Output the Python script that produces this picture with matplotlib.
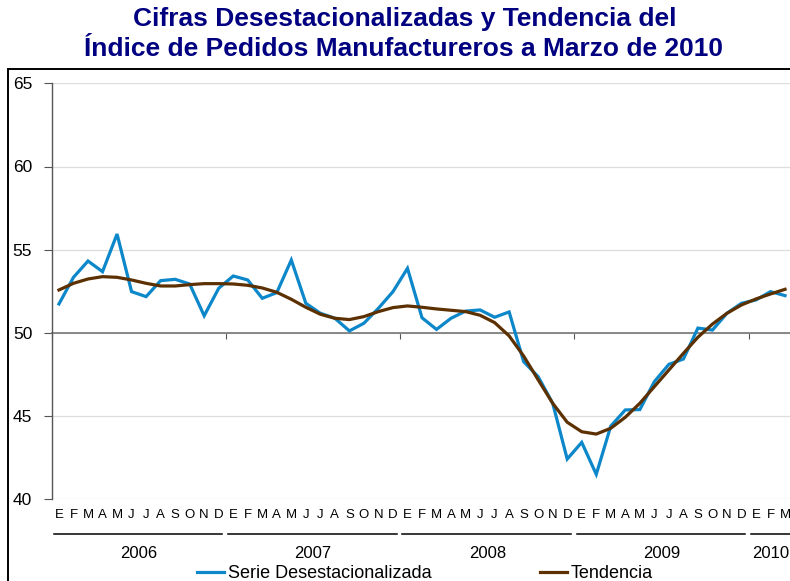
import matplotlib
matplotlib.use("Agg")
import matplotlib.pyplot as plt
from matplotlib.lines import Line2D
from matplotlib.patches import Rectangle
import matplotlib.transforms as mtransforms

plt.rcParams['font.family'] = ['Liberation Sans', 'DejaVu Sans']

years = ['2006', '2007', '2008', '2009', '2010']
month_letters = ['E', 'F', 'M', 'A', 'M', 'J', 'J', 'A', 'S', 'O', 'N', 'D']

serie = [51.74, 53.34, 54.32, 53.68, 55.94, 52.48, 52.18, 53.14, 53.22, 52.94, 51.03, 52.68,
         53.42, 53.18, 52.08, 52.42, 54.38, 51.78, 51.18, 50.88, 50.12, 50.58, 51.48, 52.48,
         53.88, 50.91, 50.21, 50.88, 51.31, 51.38, 50.94, 51.26, 48.27, 47.37, 45.77, 42.42,
         43.42, 41.50, 44.40, 45.37, 45.39, 47.07, 48.11, 48.43, 50.29, 50.17, 51.18, 51.78,
         51.98, 52.48, 52.24]
tendencia = [52.58, 52.98, 53.24, 53.38, 53.34, 53.18, 52.98, 52.82, 52.82, 52.90, 52.96, 52.96,
             52.94, 52.86, 52.70, 52.44, 52.02, 51.54, 51.12, 50.88, 50.80, 50.98, 51.28, 51.52,
             51.62, 51.54, 51.44, 51.36, 51.28, 51.06, 50.62, 49.82, 48.61, 47.18, 45.77, 44.63,
             44.06, 43.92, 44.27, 44.93, 45.77, 46.77, 47.77, 48.77, 49.74, 50.53, 51.18, 51.68,
             52.04, 52.34, 52.62]
yticks = [40, 45, 50, 55, 60, 65]

W, H = 790, 581
fig = plt.figure(figsize=(W / 100, H / 100), dpi=100)

# axes placement (pixels)
ax_left, ax_right = 51.7, 792.3
ax_top, ax_bottom = 83.3, 499.3
ax = fig.add_axes([ax_left / W, 1 - ax_bottom / H, (ax_right - ax_left) / W, (ax_bottom - ax_top) / H])

n = len(serie)
x = list(range(n))
blue = '#0C87C9'
brown = '#5C3000'
l1, = ax.plot(x, serie, color=blue, lw=2.3, solid_joinstyle='miter', zorder=3,
              label='Serie Desestacionalizada')
l2, = ax.plot(x, tendencia, color=brown, lw=2.3, zorder=4, label='Tendencia')

year_bounds = [-0.5 + 12 * k for k in range(len(years)) if -0.5 + 12 * k < n - 0.5]
ax.set_xticks(year_bounds)
ax.set_xlim(-0.5, n - 0.5)
ax.set_ylim(40, 65)
ax.set_yticks(yticks)
ax.set_yticklabels([str(v) for v in yticks], fontsize=12.5)
ax.yaxis.grid(True, color='#dddddd', lw=0.9)
ax.set_axisbelow(True)

for s in ['top', 'right']:
    ax.spines[s].set_visible(False)
ax.spines['left'].set_color('#555555')
ax.spines['left'].set_linewidth(1.0)
ax.spines['bottom'].set_position(('data', 50))
ax.spines['bottom'].set_color('#777777')
ax.spines['bottom'].set_linewidth(1.2)
ax.spines['bottom'].set_zorder(2)

ax.tick_params(axis='x', direction='out', length=4, color='#555555', labelbottom=False)
ax.tick_params(axis='y', direction='out', length=6, color='#555555', pad=8)

trans = mtransforms.blended_transform_factory(ax.transData, ax.transAxes)
for i in range(n):
    ax.text(i, -0.038, month_letters[i % 12], transform=trans, ha='center', va='center',
            fontsize=9.5, clip_on=False)

for k, yr in enumerate(years):
    start = -0.5 + 12 * k
    end = min(start + 12, n - 0.5)
    ax.add_line(Line2D([start + 0.15, start + 11.75], [-0.0834, -0.0834], transform=trans,
                       color='black', lw=1.1, clip_on=False))
    ax.text((start + end) / 2, -0.131, yr, transform=trans, ha='center', va='center',
            fontsize=12, clip_on=False)

# outer frame
fig.patches.append(Rectangle((8.3 / W, -0.05), 1.2, 1 - 69.3 / H + 0.05, transform=fig.transFigure,
                             fill=False, edgecolor='black', lw=1.4, zorder=0))

# title
fig.text(405 / W, 1 - 19 / H, 'Cifras Desestacionalizadas y Tendencia del', ha='center', va='center',
         fontsize=19, fontweight='bold', color='#000080')
fig.text(404 / W, 1 - 49 / H, 'Índice de Pedidos Manufactureros a Marzo de 2010', ha='center', va='center',
         fontsize=19, fontweight='bold', color='#000080')

fig.legend(handles=[l1, l2], loc='center', bbox_to_anchor=(425 / W, 1 - 574 / H), ncol=2,
           frameon=False, fontsize=13, handlelength=1.5, handletextpad=0.2, columnspacing=6.0,
           borderpad=0, borderaxespad=0)

fig.savefig('out.png', dpi=100)
